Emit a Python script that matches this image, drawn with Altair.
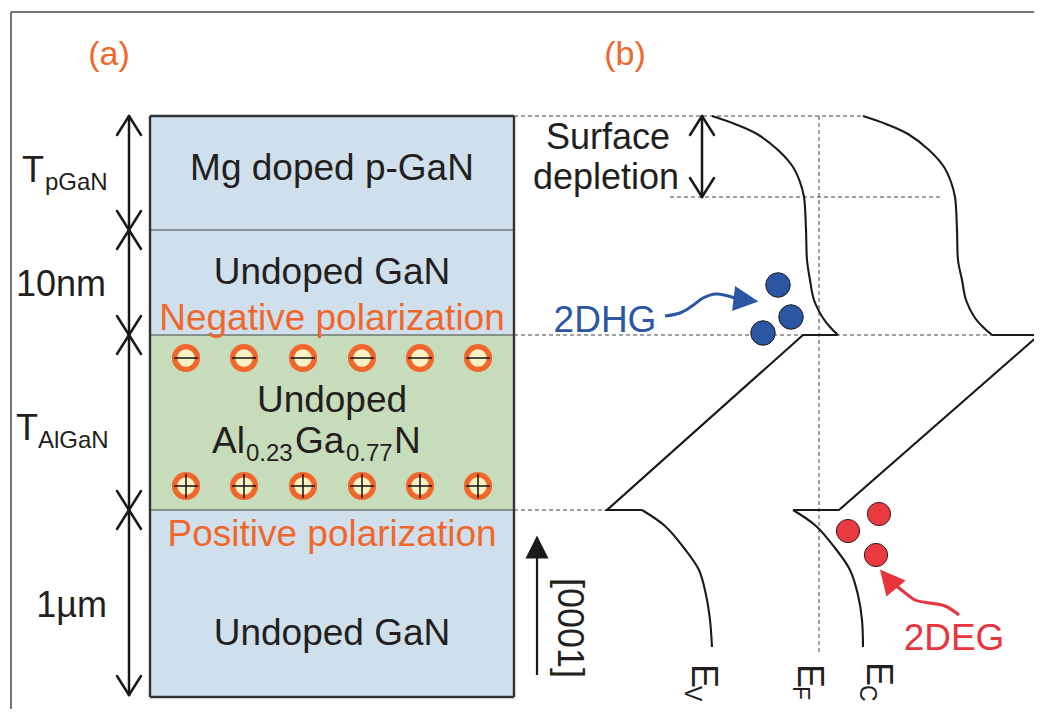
import altair as alt
import pandas as pd

# ---------------- data (reference-image pixel coordinates) ----------------
# panel (a) epitaxial stack
stack_top = [116, 230, 335, 510]
stack_bottom = [230, 335, 510, 697]
stack_fill = ["#cfe0ec", "#cfe0ec", "#c7dcba", "#cfe0ec"]
stack_left, stack_right = 150, 514

# polarization charges
charge_x = [186, 244, 303, 362, 420, 478]
neg_charge_y = 358
pos_charge_y = 486

# thickness double arrows (x, top, bottom)
dim_x = [129, 129, 129, 129, 702]
dim_y1 = [116, 230, 335, 510, 116]
dim_y2 = [230, 335, 510, 695, 197]

# band diagram: curved parts
ev_top_x = [712, 735, 757, 778, 793, 800, 804, 806, 807, 810, 814, 823, 830, 838]
ev_top_y = [116, 124, 134, 150, 167, 182, 197, 230, 260, 280, 300, 318, 327, 335]
ec_top_x = [863, 886, 908, 929, 944, 951, 955, 957, 958, 962, 966, 975, 983, 992]
ec_top_y = [116, 124, 134, 150, 167, 182, 197, 230, 260, 280, 300, 318, 327, 335]
ev_bot_x = [642, 665, 684, 699, 706, 710, 712]
ev_bot_y = [510, 526, 548, 570, 595, 620, 647]
ec_bot_x = [793, 816, 835, 850, 858, 862, 863]
ec_bot_y = [510, 526, 548, 570, 595, 620, 647]
# band diagram: straight parts (AlGaN barrier)
ev_mid_x = [838, 803, 607, 642]
ev_mid_y = [335, 335, 510, 510]
ec_mid_x = [992, 1039, 839, 793]
ec_mid_y = [335, 335, 510, 510]

# dashed guide lines (x1, y1, x2, y2)
dash_x1 = [514, 670, 514, 514, 819]
dash_y1 = [116, 197, 335, 510, 116]
dash_x2 = [863, 940, 992, 642, 819]
dash_y2 = [116, 197, 335, 510, 652]

# carriers
hole_x = [778, 791, 763]
hole_y = [285, 317, 333]
elec_x = [879, 848, 876]
elec_y = [514, 531, 555]

# annotation arrows
dhg_arrow_x = [665, 680, 692, 703, 716, 735]
dhg_arrow_y = [316, 313, 306, 298, 294, 298]
deg_arrow_x = [959, 945, 930, 915, 904, 893]
deg_arrow_y = [615, 606, 603, 600, 592, 583]
axis_arrow_x = [537, 537]
axis_arrow_y = [675, 556]

# arrow heads: centre x, centre y, angle, length
head_x = [746, 888, 537]
head_y = [300, 579, 547]
head_angle = [7, 230, 270]
head_len = [25, 25, 23]
head_color = ["#2a56a3", "#e8343d", "#1a1a1a"]

ORANGE = "#f1672b"
BLACK = "#231f20"
BLUE = "#2a56a3"
RED = "#e8343d"

# texts: (text, x, y, size, color, angle)
text_center = [
    ("(a)", 109, 65, 34, ORANGE, 0),
    ("(b)", 625, 65, 34, ORANGE, 0),
    ("Mg doped p-GaN", 332, 180, 37, BLACK, 0),
    ("Undoped GaN", 332, 284, 37, BLACK, 0),
    ("Negative polarization", 332, 330, 37, ORANGE, 0),
    ("Undoped", 332, 412, 37, BLACK, 0),
    ("Positive polarization", 332, 546, 37, ORANGE, 0),
    ("Undoped GaN", 332, 645, 37, BLACK, 0),
    ("Surface", 608, 149, 36, BLACK, 0),
    ("depletion", 606, 189, 36, BLACK, 0),
    ("2DHG", 605, 332, 37, BLUE, 0),
    ("2DEG", 954, 650, 37, RED, 0),
]
text_right = [
    ("10nm", 106, 296, 36, BLACK, 0),
    ("1µm", 107, 617, 36, BLACK, 0),
]
text_left = [
    ("T", 22, 182, 36, BLACK, 0),
    ("pGaN", 45, 190, 24, BLACK, 0),
    ("T", 16, 440, 36, BLACK, 0),
    ("AlGaN", 38, 448, 24, BLACK, 0),
    ("Al", 212, 453, 37, BLACK, 0),
    ("0.23", 246, 461, 24, BLACK, 0),
    ("Ga", 295, 453, 37, BLACK, 0),
    ("0.77", 346, 461, 24, BLACK, 0),
    ("N", 394, 453, 37, BLACK, 0),
    ("[0001]", 558, 578, 36, BLACK, 90),
    ("E", 692, 664, 36, BLACK, 90),
    ("V", 685, 686, 23, BLACK, 90),
    ("E", 798, 664, 36, BLACK, 90),
    ("F", 793, 686, 23, BLACK, 90),
    ("E", 867, 662, 36, BLACK, 90),
    ("C", 860, 685, 23, BLACK, 90),
]

# ---------------- build tables ----------------
W, H = 1026, 701
xs = alt.Scale(domain=[8, 8 + W], range=[0, W], nice=False, zero=False)
ys = alt.Scale(domain=[8, 8 + H], reverse=True, nice=False, zero=False)
X = lambda f="x": alt.X(f + ":Q", scale=xs, axis=None)
Y = lambda f="y": alt.Y(f + ":Q", scale=ys, axis=None)

rect_df = pd.DataFrame({
    "x": [stack_left] * 4, "x2": [stack_right] * 4,
    "y": stack_top, "y2": stack_bottom, "fill": stack_fill,
})

def segs(rows):
    return pd.DataFrame(rows, columns=["x", "y", "x2", "y2"])

frame_df = segs([(11, 12, 8 + W, 12), (11, 12, 11, 8 + H)])
sep_df = segs([(stack_left, t, stack_right, t) for t in stack_top[1:]])
outline_df = segs([
    (stack_left, stack_top[0], stack_right, stack_top[0]),
    (stack_left, stack_bottom[-1], stack_right, stack_bottom[-1]),
    (stack_left, stack_top[0], stack_left, stack_bottom[-1]),
    (stack_right, stack_top[0], stack_right, stack_bottom[-1]),
])
dash_df = segs(list(zip(dash_x1, dash_y1, dash_x2, dash_y2)))

dim_rows = []
for x, a, b in zip(dim_x, dim_y1, dim_y2):
    dim_rows += [(x, a, x, b),
                 (x, a, x - 12, a + 19), (x, a, x + 12, a + 19),
                 (x, b, x - 12, b - 19), (x, b, x + 12, b - 19)]
dim_df = segs(dim_rows)

sign_rows = []
for x in charge_x:
    sign_rows.append((x - 12, neg_charge_y, x + 12, neg_charge_y))
    sign_rows.append((x - 12, pos_charge_y, x + 12, pos_charge_y))
    sign_rows.append((x, pos_charge_y - 12, x, pos_charge_y + 12))
sign_df = segs(sign_rows)

def path_df(pieces):
    rows = []
    for name, xs_, ys_ in pieces:
        for i, (a, b) in enumerate(zip(xs_, ys_)):
            rows.append({"piece": name, "i": i, "x": a, "y": b})
    return pd.DataFrame(rows)

curve_df = path_df([("evt", ev_top_x, ev_top_y), ("ect", ec_top_x, ec_top_y),
                    ("evb", ev_bot_x, ev_bot_y), ("ecb", ec_bot_x, ec_bot_y)])
straight_df = path_df([("evm", ev_mid_x, ev_mid_y), ("ecm", ec_mid_x, ec_mid_y),
                       ("ax", axis_arrow_x, axis_arrow_y)])
blue_arrow_df = path_df([("dhg", dhg_arrow_x, dhg_arrow_y)])
red_arrow_df = path_df([("deg", deg_arrow_x, deg_arrow_y)])

head_df = pd.DataFrame({"x": head_x, "y": head_y, "angle": head_angle,
                        "size": [l * l for l in head_len], "color": head_color})
charge_df = pd.DataFrame({"x": charge_x * 2,
                          "y": [neg_charge_y] * 6 + [pos_charge_y] * 6})
hole_df = pd.DataFrame({"x": hole_x, "y": hole_y})
elec_df = pd.DataFrame({"x": elec_x, "y": elec_y})

def text_df(rows):
    return pd.DataFrame(rows, columns=["text", "x", "y", "size", "color", "angle"])

def rules(df, **kw):
    return alt.Chart(df).mark_rule(**kw).encode(x=X(), y=Y(), x2="x2:Q", y2="y2:Q")

def lines(df, interp, **kw):
    return alt.Chart(df).mark_line(interpolate=interp, **kw).encode(
        x=X(), y=Y(), detail="piece:N", order="i:Q")

def texts(df, align):
    return alt.Chart(df).mark_text(align=align, baseline="alphabetic",
                                   font="Liberation Sans").encode(
        x=X(), y=Y(), text="text:N",
        size=alt.Size("size:Q", scale=None),
        color=alt.Color("color:N", scale=None),
        angle=alt.Angle("angle:Q", scale=None))

layers = [
    alt.Chart(rect_df).mark_rect().encode(
        x=X(), x2="x2:Q", y=Y(), y2="y2:Q", fill=alt.Fill("fill:N", scale=None)),
    rules(frame_df, color="#4a4a4a", strokeWidth=1.5),
    rules(sep_df, color="#444444", strokeWidth=1.2),
    rules(outline_df, color="#333333", strokeWidth=2.4),
    rules(dash_df, color="#444444", strokeWidth=1, strokeDash=[4, 3]),
    lines(curve_df, "catmull-rom", color="#1a1a1a", strokeWidth=2.1),
    lines(straight_df, "linear", color="#1a1a1a", strokeWidth=2.2),
    lines(blue_arrow_df, "catmull-rom", color=BLUE, strokeWidth=3),
    lines(red_arrow_df, "catmull-rom", color=RED, strokeWidth=3),
    rules(dim_df, color="#1a1a1a", strokeWidth=2.5, strokeCap="round"),
    alt.Chart(head_df).mark_point(shape="M1,0L-1,-1L-1,1Z", filled=True,
                                  opacity=1, strokeWidth=0).encode(
        x=X(), y=Y(), angle=alt.Angle("angle:Q", scale=None),
        size=alt.Size("size:Q", scale=None), color=alt.Color("color:N", scale=None)),
    alt.Chart(charge_df).mark_circle(size=520, fill="#f6f2c6", stroke=ORANGE,
                                     strokeWidth=5.4, opacity=1).encode(x=X(), y=Y()),
    rules(sign_df, color="#111111", strokeWidth=1.5),
    alt.Chart(hole_df).mark_circle(size=600, fill=BLUE, stroke="#1a1a1a",
                                   strokeWidth=1, opacity=1).encode(x=X(), y=Y()),
    alt.Chart(elec_df).mark_circle(size=540, fill="#e83a40", stroke="#3a1a1a",
                                   strokeWidth=1, opacity=1).encode(x=X(), y=Y()),
    texts(text_df(text_center), "center"),
    texts(text_df(text_right), "right"),
    texts(text_df(text_left), "left"),
]

chart = alt.layer(*layers).properties(
    width=W, height=H, padding=0,
    autosize=alt.AutoSizeParams(type="none"),
    background="white",
).configure_view(stroke=None)

chart.save("out.html", embed_options={"renderer": "svg", "actions": False})
